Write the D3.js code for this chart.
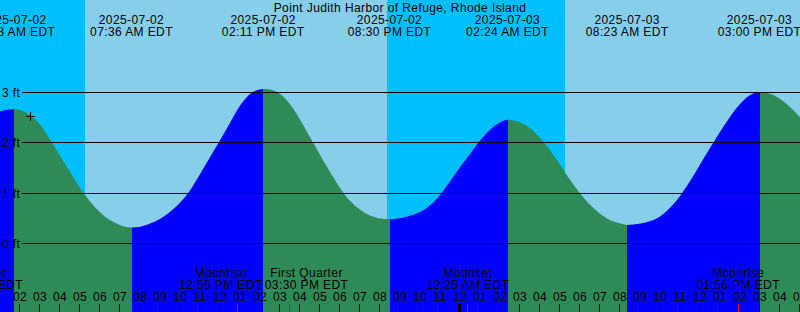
<!DOCTYPE html>
<html>
<head>
<meta charset="utf-8">
<script src="https://cdn.jsdelivr.net/npm/d3@7"></script>
<style>
  body { margin: 0; background: #fff; }
  svg { display: block; font-family: "Liberation Sans", Arial, sans-serif; font-size: 12px; letter-spacing: 0.4px; }
</style>
</head>
<body>
<div id="chart"></div>
<script>
// station + window
const title = "Point Judith Harbor of Refuge, Rhode Island";
const windowStart = "2025-07-02T01:01:30";
const windowEnd = "2025-07-03T17:01:30";

// tide level samples (ft)
const tideTimes = [
  "2025-07-02T01:00", "2025-07-02T01:43", "2025-07-02T02:30", "2025-07-02T03:00", "2025-07-02T03:30",
  "2025-07-02T04:00", "2025-07-02T04:30", "2025-07-02T05:00", "2025-07-02T05:30", "2025-07-02T06:00",
  "2025-07-02T06:30", "2025-07-02T07:00", "2025-07-02T07:36", "2025-07-02T08:00", "2025-07-02T08:30",
  "2025-07-02T09:00", "2025-07-02T09:30", "2025-07-02T10:00", "2025-07-02T10:30", "2025-07-02T11:00",
  "2025-07-02T11:30", "2025-07-02T12:00", "2025-07-02T12:30", "2025-07-02T13:00", "2025-07-02T13:30",
  "2025-07-02T13:50", "2025-07-02T14:11", "2025-07-02T14:30", "2025-07-02T15:00", "2025-07-02T15:30",
  "2025-07-02T16:00", "2025-07-02T16:30", "2025-07-02T17:00", "2025-07-02T17:30", "2025-07-02T18:00",
  "2025-07-02T18:30", "2025-07-02T19:00", "2025-07-02T19:30", "2025-07-02T20:00", "2025-07-02T20:30",
  "2025-07-02T21:00", "2025-07-02T21:30", "2025-07-02T22:00", "2025-07-02T22:30", "2025-07-02T23:00",
  "2025-07-02T23:30", "2025-07-03T00:00", "2025-07-03T00:30", "2025-07-03T01:00", "2025-07-03T01:30",
  "2025-07-03T02:00", "2025-07-03T02:24", "2025-07-03T03:00", "2025-07-03T03:30", "2025-07-03T04:00",
  "2025-07-03T04:30", "2025-07-03T05:00", "2025-07-03T05:30", "2025-07-03T06:00", "2025-07-03T06:30",
  "2025-07-03T07:00", "2025-07-03T07:30", "2025-07-03T08:00", "2025-07-03T08:23", "2025-07-03T09:00",
  "2025-07-03T09:30", "2025-07-03T10:00", "2025-07-03T10:30", "2025-07-03T11:00", "2025-07-03T11:30",
  "2025-07-03T12:00", "2025-07-03T12:30", "2025-07-03T13:00", "2025-07-03T13:30", "2025-07-03T14:00",
  "2025-07-03T14:30", "2025-07-03T15:00", "2025-07-03T15:30", "2025-07-03T16:00", "2025-07-03T16:30",
  "2025-07-03T17:00", "2025-07-03T17:30"
];
const tideLevels = [
  2.62, 2.67, 2.56, 2.38, 2.08,
  1.76, 1.44, 1.12, 0.85, 0.63,
  0.47, 0.37, 0.32, 0.33, 0.39,
  0.48, 0.62, 0.80, 1.04, 1.36,
  1.70, 2.03, 2.38, 2.72, 2.96,
  3.04, 3.07, 3.06, 2.98, 2.78,
  2.48, 2.13, 1.78, 1.44, 1.12,
  0.86, 0.68, 0.56, 0.50, 0.48,
  0.50, 0.55, 0.62, 0.75, 0.95,
  1.22, 1.50, 1.77, 2.03, 2.25,
  2.40, 2.46, 2.41, 2.30, 2.11,
  1.87, 1.58, 1.28, 1.01, 0.78,
  0.60, 0.47, 0.40, 0.37, 0.39,
  0.44, 0.53, 0.70, 0.93, 1.22,
  1.55, 1.88, 2.20, 2.50, 2.76,
  2.94, 3.01, 2.98, 2.88, 2.72,
  2.52, 2.28
];

// high / low tides
const extremeTimes = ["2025-07-02T01:43", "2025-07-02T07:36", "2025-07-02T14:11", "2025-07-02T20:30",
                      "2025-07-03T02:24", "2025-07-03T08:23", "2025-07-03T15:00"];
const extremeKinds = ["H", "L", "H", "L", "H", "L", "H"];

// sun: first band is night
const sunTimes = ["2025-07-02T05:17", "2025-07-02T20:23", "2025-07-03T05:17"];

// moon events
const moonTimes = ["2025-07-02T00:06", "2025-07-02T12:55", "2025-07-02T15:30", "2025-07-03T00:25", "2025-07-03T13:56"];
const moonNames = ["Moonset", "Moonrise", "First Quarter", "Moonset", "Moonrise"];

const yTicks = [0, 1, 2, 3];
const currentTime = "2025-07-02T02:32";
const currentLevel = 2.53;

const width = 800, height = 312;
const parse = d3.utcParse("%Y-%m-%dT%H:%M");
const parseS = d3.utcParse("%Y-%m-%dT%H:%M:%S");
const fmtDate = d3.utcFormat("%Y-%m-%d");
const fmtTime = d3.utcFormat("%I:%M %p EDT");

const x = d3.scaleUtc().domain([parseS(windowStart), parseS(windowEnd)]).range([0, width]);
const y = d3.scaleLinear().domain([0, 3]).range([243.5, 92.5]);

const svg = d3.select("#chart").append("svg")
  .attr("width", width)
  .attr("height", height);

// day / night background
const sunEdges = [x.domain()[0], ...sunTimes.map(parse), x.domain()[1]];
svg.append("g").selectAll("rect")
  .data(d3.pairs(sunEdges))
  .join("rect")
  .attr("x", d => Math.round(x(d[0])))
  .attr("width", d => Math.round(x(d[1])) - Math.round(x(d[0])))
  .attr("y", 0)
  .attr("height", height)
  .attr("fill", (d, i) => i % 2 === 0 ? "#00bfff" : "#87ceeb");

// water, coloured by rising / falling
const tide = tideTimes.map((t, i) => ({ t: parse(t), v: tideLevels[i] }));
const area = d3.area()
  .x(d => x(d.t))
  .y0(height)
  .y1(d => y(d.v))
  .curve(d3.curveMonotoneX);

const segEdges = [x.domain()[0], ...extremeTimes.map(parse), x.domain()[1]];
const segs = d3.pairs(segEdges).map((d, i) => ({
  x0: i === 0 ? -5 : Math.round(x(d[0])),
  x1: i === segEdges.length - 2 ? width + 5 : Math.round(x(d[1])),
  rising: i < extremeKinds.length ? extremeKinds[i] === "H" : extremeKinds[extremeKinds.length - 1] === "L"
}));

const defs = svg.append("defs");
segs.forEach((s, i) => {
  defs.append("clipPath").attr("id", "seg" + i)
    .append("rect")
    .attr("x", s.x0).attr("y", 0)
    .attr("width", s.x1 - s.x0).attr("height", height);
  svg.append("path")
    .datum(tide)
    .attr("clip-path", `url(#seg${i})`)
    .attr("fill", s.rising ? "#0000ff" : "#2e8b57")
    .attr("d", area);
});

// level lines
const grid = svg.append("g");
grid.selectAll("line")
  .data(yTicks)
  .join("line")
  .attr("x1", 22).attr("x2", width)
  .attr("y1", d => Math.floor(y(d)) + 0.5)
  .attr("y2", d => Math.floor(y(d)) + 0.5)
  .attr("stroke", "#000");
grid.selectAll("text")
  .data(yTicks)
  .join("text")
  .attr("x", 2)
  .attr("y", d => Math.floor(y(d)) + 5)
  .text(d => d + " ft");

// current time marker
const cx = x(parse(currentTime)), cy = y(currentLevel);
svg.append("path")
  .attr("d", `M${Math.round(cx) - 4},${Math.round(cy) + 0.5}h9M${Math.round(cx) + 0.5},${Math.round(cy) - 4}v9`)
  .attr("stroke", "#000");

// title + tide event labels
svg.append("text")
  .attr("x", width / 2).attr("y", 12)
  .attr("text-anchor", "middle")
  .text(title);

const ev = svg.append("g").attr("text-anchor", "middle");
extremeTimes.map(parse).forEach(t => {
  const g = ev.append("text");
  g.append("tspan").attr("x", x(t)).attr("y", 24).text(fmtDate(t));
  g.append("tspan").attr("x", x(t)).attr("y", 36).text(fmtTime(t));
});

// hour ticks + labels
const hours = d3.utcHour.range(d3.utcHour.ceil(x.domain()[0]), x.domain()[1]);
const axis = svg.append("g");
axis.selectAll("line")
  .data(hours)
  .join("line")
  .attr("x1", d => Math.floor(x(d)) + 0.5)
  .attr("x2", d => Math.floor(x(d)) + 0.5)
  .attr("y1", 304).attr("y2", height)
  .attr("stroke", "#000")
  .attr("stroke-width", d => d.getUTCHours() === 0 ? 3 : 1);
axis.selectAll("text")
  .data(hours)
  .join("text")
  .attr("x", d => x(d) + 0.5)
  .attr("y", 301)
  .attr("text-anchor", "middle")
  .text(d3.utcFormat("%I"));

// moon ticks
const moon = moonTimes.map((t, i) => ({ t: parse(t), name: moonNames[i], cx: x(parse(t)) }));
svg.append("g").selectAll("line")
  .data(moon)
  .join("line")
  .attr("x1", d => Math.floor(d.cx) + 0.5)
  .attr("x2", d => Math.floor(d.cx) + 0.5)
  .attr("y1", 304).attr("y2", height)
  .attr("stroke", "#ff0000");

// moon labels, pushed apart where they collide
const ml = svg.append("g").attr("text-anchor", "middle");
const mt = ml.selectAll("text")
  .data(moon)
  .join("text");
mt.append("tspan").attr("x", d => d.cx).attr("y", 277).text(d => d.name);
mt.append("tspan").attr("x", d => d.cx).attr("y", 289).text(d => fmtTime(d.t));
mt.each(function (d) { d.w = this.getBBox().width; });
for (let i = 1; i < moon.length; i++) {
  const a = moon[i - 1], b = moon[i];
  const need = (a.w + b.w) / 2 + 2;
  const gap = b.cx - a.cx;
  if (gap < need) {
    a.cx -= (need - gap) / 2;
    b.cx += (need - gap) / 2;
  }
}
mt.selectAll("tspan").attr("x", function () { return d3.select(this.parentNode).datum().cx; });
</script>
</body>
</html>
